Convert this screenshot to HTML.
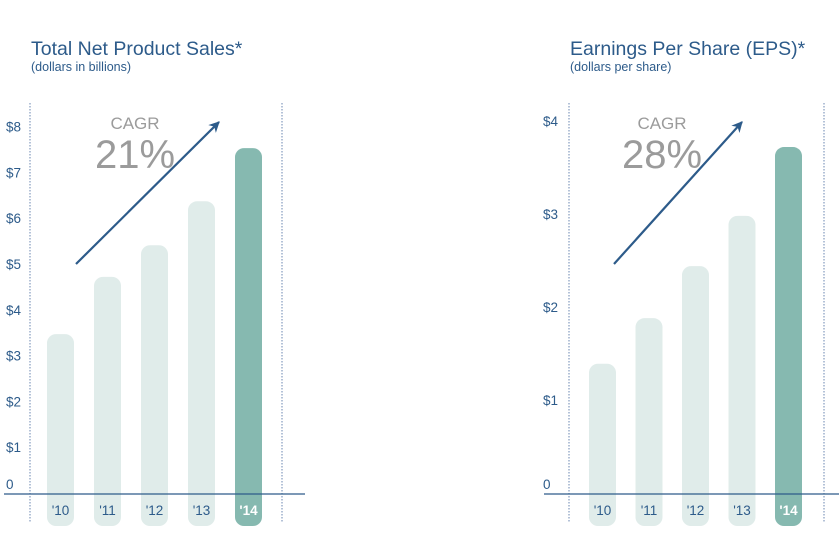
<!DOCTYPE html>
<html><head><meta charset="utf-8"><style>
body{margin:0;background:#fff;}
svg text{font-family:"Liberation Sans",sans-serif;}
</style></head><body>
<svg width="839" height="544" viewBox="0 0 839 544">
<defs><marker id="ah" viewBox="0 0 10 10" refX="9" refY="5" markerWidth="5" markerHeight="5" orient="auto"><path d="M0,0 L10,5 L0,10 L3,5 z" fill="#2d5b8a"/></marker></defs>
<g id="c1"></g>
<g id="c2"></g>
</svg>
<script>
const cats=["'10","'11","'12","'13","'14"];
const salesVals=[3.47,4.72,5.41,6.37,7.53];
const salesTicks=[0,1,2,3,4,5,6,7,8];
const epsVals=[1.39,1.88,2.44,2.98,3.72];
const epsTicks=[0,1,2,3,4];
const NS="http://www.w3.org/2000/svg";
function mk(p,t,a,txt){const e=document.createElementNS(NS,t);for(const k in a)e.setAttribute(k,a[k]);if(txt!=null)e.textContent=txt;p.appendChild(e);return e;}
function draw(g,o){
  const y=v=>493-v*o.k;
  const t1=mk(g,'text',{x:o.tx,y:55,'font-size':19.5,fill:'#2d5b8a'},o.title);
  
  const t2=mk(g,'text',{x:o.tx,y:71,'font-size':12.5,fill:'#2d5b8a'},o.sub);
  
  [o.dl,o.dr].forEach(x=>{const l=mk(g,'line',{x1:x,x2:x,y1:103,y2:523,stroke:'#6a86b0','stroke-width':1,'stroke-dasharray':'1.5,1.5'});
    });
  o.ticks.forEach(v=>{const tt=mk(g,'text',{x:o.lx,y:(v===0?484:y(v))+5,'font-size':13.5,fill:'#2d5b8a'},v===0?'0':'$'+v);
    });
  o.vals.forEach((v,i)=>{const x=o.b0+i*o.step;const last=i===o.vals.length-1;
    const r=mk(g,'rect',{x:x,y:y(v),width:27,height:526-y(v),rx:9,fill:last?'#86b9b0':'#e0ecea'});
    
    const tl=mk(g,'text',{x:x+13.5,y:515,'font-size':13.5,'text-anchor':'middle',fill:last?'#fff':'#2d5b8a','font-weight':last?'bold':'normal'},cats[i]);
    });
  const b=mk(g,'line',{x1:o.ax0,x2:o.ax1,y1:494,y2:494,stroke:'#2d5b8a','stroke-width':1.3});
  
  const a=mk(g,'line',{x1:o.ar[0],y1:o.ar[1],x2:o.ar[2],y2:o.ar[3],stroke:'#2d5b8a','stroke-width':2.2,'marker-end':'url(#ah)'});
  
  const c1=mk(g,'text',{x:o.cx,y:129,'font-size':17,'text-anchor':'middle',fill:'#9b9b9b'},'CAGR');
  
  const c2=mk(g,'text',{x:o.cx,y:168,'font-size':40,'text-anchor':'middle',fill:'#9b9b9b'},o.cagr);
  
}
draw(document.getElementById('c1'),{k:45.8,title:'Total Net Product Sales*',sub:'(dollars in billions)',tx:31,dl:30,dr:282,lx:6,ticks:salesTicks,vals:salesVals,b0:47,step:47,ax0:4,ax1:305,ar:[76,264,219,122],cx:135,cagr:'21%'});
draw(document.getElementById('c2'),{k:93,title:'Earnings Per Share (EPS)*',sub:'(dollars per share)',tx:570,dl:569,dr:824,lx:543,ticks:epsTicks,vals:epsVals,b0:589,step:46.5,ax0:544,ax1:839,ar:[614,264,742,122],cx:662,cagr:'28%'});
</script>
</body></html>
